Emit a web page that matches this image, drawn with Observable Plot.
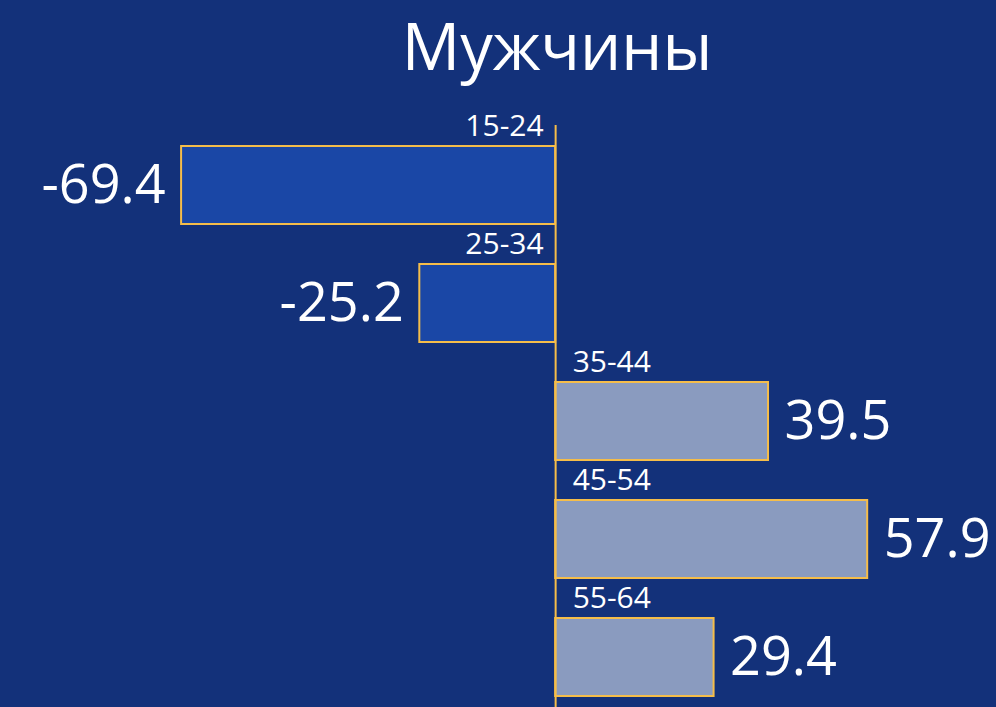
<!DOCTYPE html>
<html>
<head>
<meta charset="utf-8">
<script src="https://cdn.jsdelivr.net/npm/d3@7"></script>
<script src="https://cdn.jsdelivr.net/npm/@observablehq/plot@0.6"></script>
<style>
  html, body { margin: 0; padding: 0; background: #13317a; }
  #wrap { width: 996px; height: 707px; overflow: hidden; background: #13317a; }
  #title {
    height: 100px; box-sizing: border-box; padding-left: 118px; padding-top: 1px;
    text-align: center; color: white; font-family: 'Open Sans', sans-serif;
    font-size: 65px; font-weight: 500; line-height: normal; white-space: nowrap;
  }
  #chart svg { display: block; }
</style>
</head>
<body>
<div id="wrap">
  <div id="title"></div>
  <div id="chart"></div>
</div>
<script>
const title = "Мужчины";
const ages = ["15-24", "25-34", "35-44", "45-54", "55-64"];
const values = [-69.4, -25.2, 39.5, 57.9, 29.4];

const data = ages.map((a, i) => ({age: a, value: values[i]}));
const fmt = d => d.toFixed(1);
const font = "'Open Sans', sans-serif";

document.getElementById("title").textContent = title;

const chart = Plot.plot({
  width: 996,
  height: 607,
  marginTop: 25,
  marginBottom: 0,
  marginLeft: 0,
  marginRight: 0,
  style: {background: "#13317a", color: "white", fontFamily: font},
  x: {domain: [-103, 81.8], axis: null},
  y: {domain: ages, range: [25, 616], paddingInner: 0.34, paddingOuter: 0.17, axis: null},
  marks: [
    Plot.barX(data, {
      x: "value", y: "age",
      fill: d => d.value < 0 ? "#1a47a6" : "#8a9bbf",
      stroke: "#f5bd4a", strokeWidth: 2
    }),
    Plot.ruleX([0], {stroke: "#f5bd4a", strokeWidth: 2}),
    Plot.text(data.filter(d => d.value < 0), {
      x: "value", y: "age", text: d => fmt(d.value),
      textAnchor: "end", dx: -16, fill: "white", fontSize: 54, fontWeight: 400
    }),
    Plot.text(data.filter(d => d.value >= 0), {
      x: "value", y: "age", text: d => fmt(d.value),
      textAnchor: "start", dx: 16, fill: "white", fontSize: 54, fontWeight: 400
    }),
    Plot.text(data.filter(d => d.value < 0), {
      x: () => 0, y: "age", text: "age",
      textAnchor: "end", dx: -12, dy: -59, fill: "white", fontSize: 30, fontWeight: 400
    }),
    Plot.text(data.filter(d => d.value >= 0), {
      x: () => 0, y: "age", text: "age",
      textAnchor: "start", dx: 17, dy: -59, fill: "white", fontSize: 30, fontWeight: 400
    })
  ]
});
document.getElementById("chart").appendChild(chart);
</script>
</body>
</html>
